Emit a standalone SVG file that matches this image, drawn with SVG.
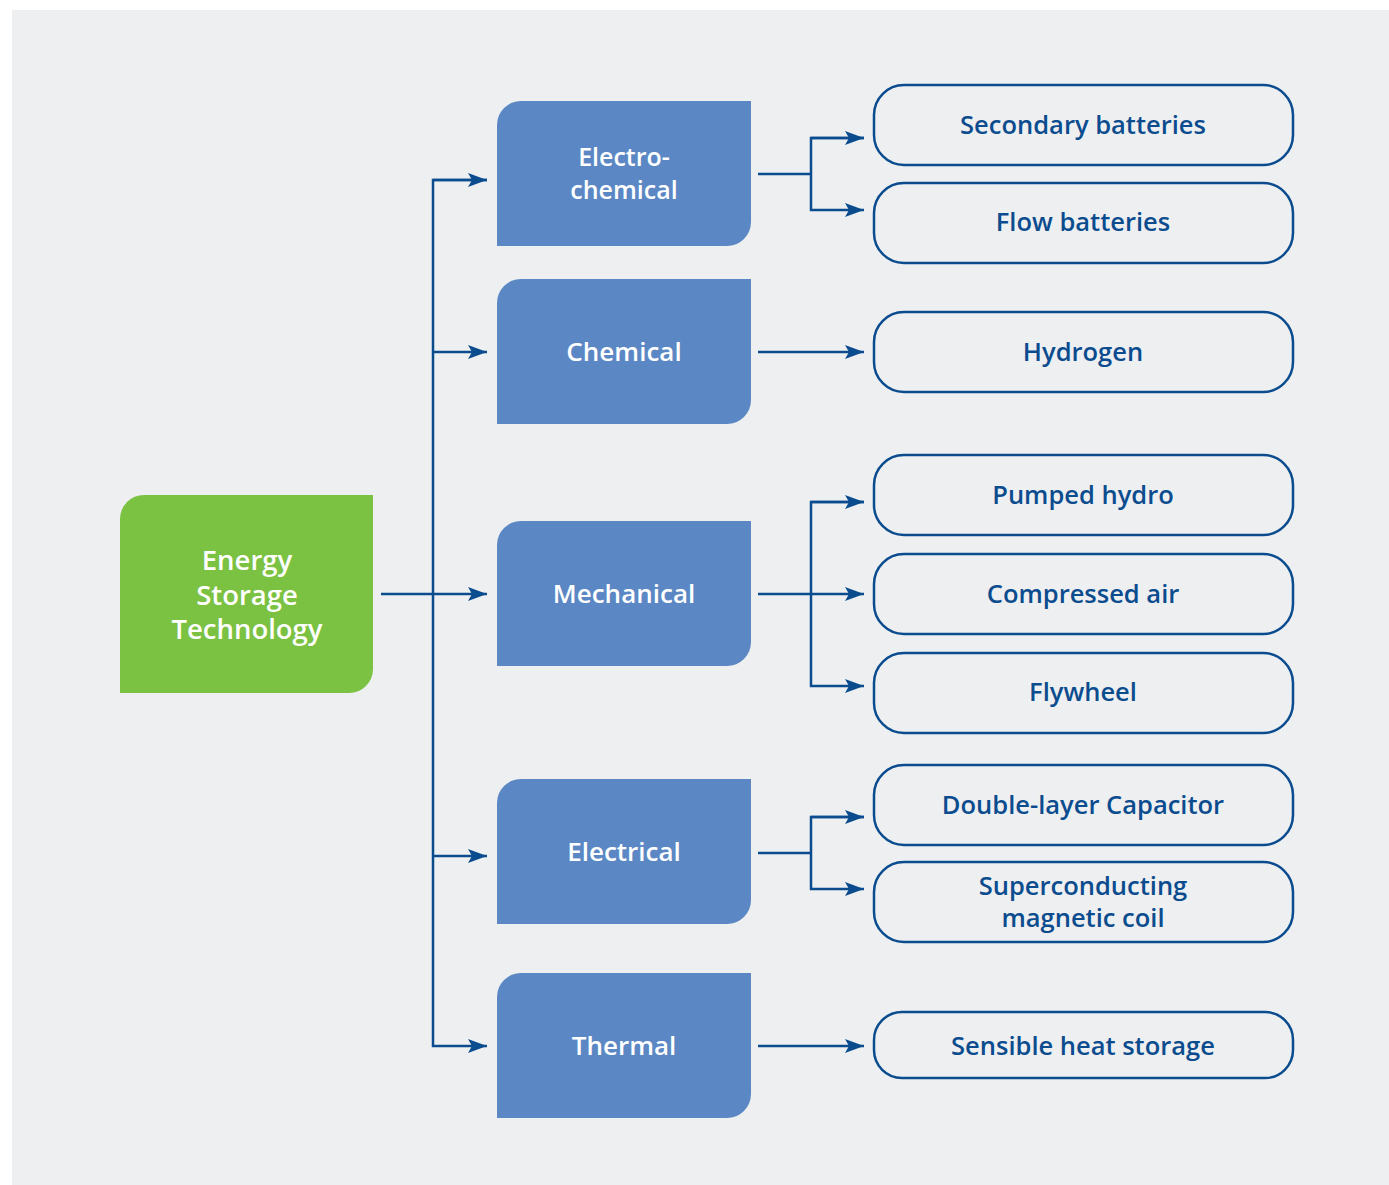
<svg xmlns="http://www.w3.org/2000/svg" width="1389" height="1185" viewBox="0 0 1389 1185">
<style>
.cat{fill:#5B88C4}
.root{fill:#7BC142}
.leaf{fill:none;stroke:#0B4C8F;stroke-width:2.5}
.wt{fill:#ffffff;font-family:"Open Sans",sans-serif;font-weight:600;text-anchor:middle}
.bt{fill:#0B4C8F;font-family:"Open Sans",sans-serif;font-weight:600;font-size:25.5px;text-anchor:middle}
.c{fill:none;stroke:#0B4C8F;stroke-width:2.5}
</style>
<defs>
<marker id="ah" markerUnits="userSpaceOnUse" markerWidth="22" markerHeight="16" refX="20" refY="8" orient="auto">
<path d="M1,1 L20,8 L1,15 L5,8 Z" fill="#0B4C8F"/>
</marker>
</defs>
<rect x="12" y="10" width="1377" height="1175" fill="#EEEFF1"/>
<g id="connectors">
<path class="c" d="M381,594 H487" marker-end="url(#ah)"/>
<path class="c" d="M487,180 H433 V1046 H487" marker-end="url(#ah)"/>
<path class="c" d="M433,180 H487" marker-end="url(#ah)"/>
<path class="c" d="M433,352 H487" marker-end="url(#ah)"/>
<path class="c" d="M433,856 H487" marker-end="url(#ah)"/>
<path class="c" d="M758,174 H811"/>
<path class="c" d="M864,138 H811 V210 H864" marker-end="url(#ah)"/>
<path class="c" d="M811,138 H864" marker-end="url(#ah)"/>
<path class="c" d="M758,352 H864" marker-end="url(#ah)"/>
<path class="c" d="M758,594 H864" marker-end="url(#ah)"/>
<path class="c" d="M864,502 H811 V686 H864" marker-end="url(#ah)"/>
<path class="c" d="M811,502 H864" marker-end="url(#ah)"/>
<path class="c" d="M758,853 H811"/>
<path class="c" d="M864,817 H811 V889 H864" marker-end="url(#ah)"/>
<path class="c" d="M811,817 H864" marker-end="url(#ah)"/>
<path class="c" d="M758,1046 H864" marker-end="url(#ah)"/>
</g>
<g id="root">
<path class="root" d="M144,495 H373 V669 A24,24 0 0 1 349,693 H120 V519 A24,24 0 0 1 144,495 Z"/>
<text class="wt" font-size="27.5" x="247" y="570">Energy</text>
<text class="wt" font-size="27.5" x="247" y="605">Storage</text>
<text class="wt" font-size="27.5" x="247" y="639">Technology</text>
</g>
<g id="electrochemical">
<path class="cat" d="M521,101 H751 V222 A24,24 0 0 1 727,246 H497 V125 A24,24 0 0 1 521,101 Z"/>
<text class="wt" font-size="25" x="624" y="166">Electro-</text>
<text class="wt" font-size="25" x="624" y="199">chemical</text>
</g>
<g id="chemical">
<path class="cat" d="M521,279 H751 V400 A24,24 0 0 1 727,424 H497 V303 A24,24 0 0 1 521,279 Z"/>
<text class="wt" font-size="26" x="624" y="361">Chemical</text>
</g>
<g id="mechanical">
<path class="cat" d="M521,521 H751 V642 A24,24 0 0 1 727,666 H497 V545 A24,24 0 0 1 521,521 Z"/>
<text class="wt" font-size="26" x="624" y="603">Mechanical</text>
</g>
<g id="electrical">
<path class="cat" d="M521,779 H751 V900 A24,24 0 0 1 727,924 H497 V803 A24,24 0 0 1 521,779 Z"/>
<text class="wt" font-size="26" x="624" y="861">Electrical</text>
</g>
<g id="thermal">
<path class="cat" d="M521,973 H751 V1094 A24,24 0 0 1 727,1118 H497 V997 A24,24 0 0 1 521,973 Z"/>
<text class="wt" font-size="26" x="624" y="1055">Thermal</text>
</g>
<g id="secondary">
<rect class="leaf" x="874" y="85" width="419" height="80" rx="30"/>
<text class="bt" x="1083" y="134">Secondary batteries</text>
</g>
<g id="flow">
<rect class="leaf" x="874" y="183" width="419" height="80" rx="30"/>
<text class="bt" x="1083" y="231">Flow batteries</text>
</g>
<g id="hydrogen">
<rect class="leaf" x="874" y="312" width="419" height="80" rx="30"/>
<text class="bt" x="1083" y="361">Hydrogen</text>
</g>
<g id="pumped">
<rect class="leaf" x="874" y="455" width="419" height="80" rx="30"/>
<text class="bt" x="1083" y="504">Pumped hydro</text>
</g>
<g id="compressed">
<rect class="leaf" x="874" y="554" width="419" height="80" rx="30"/>
<text class="bt" x="1083" y="603">Compressed air</text>
</g>
<g id="flywheel">
<rect class="leaf" x="874" y="653" width="419" height="80" rx="30"/>
<text class="bt" x="1083" y="701">Flywheel</text>
</g>
<g id="doublelayer">
<rect class="leaf" x="874" y="765" width="419" height="80" rx="30"/>
<text class="bt" x="1083" y="814">Double-layer Capacitor</text>
</g>
<g id="smes">
<rect class="leaf" x="874" y="862" width="419" height="80" rx="30"/>
<text class="bt" x="1083" y="895">Superconducting</text>
<text class="bt" x="1083" y="927">magnetic coil</text>
</g>
<g id="sensible">
<rect class="leaf" x="874" y="1012" width="419" height="66" rx="28"/>
<text class="bt" x="1083" y="1055">Sensible heat storage</text>
</g>
</svg>
